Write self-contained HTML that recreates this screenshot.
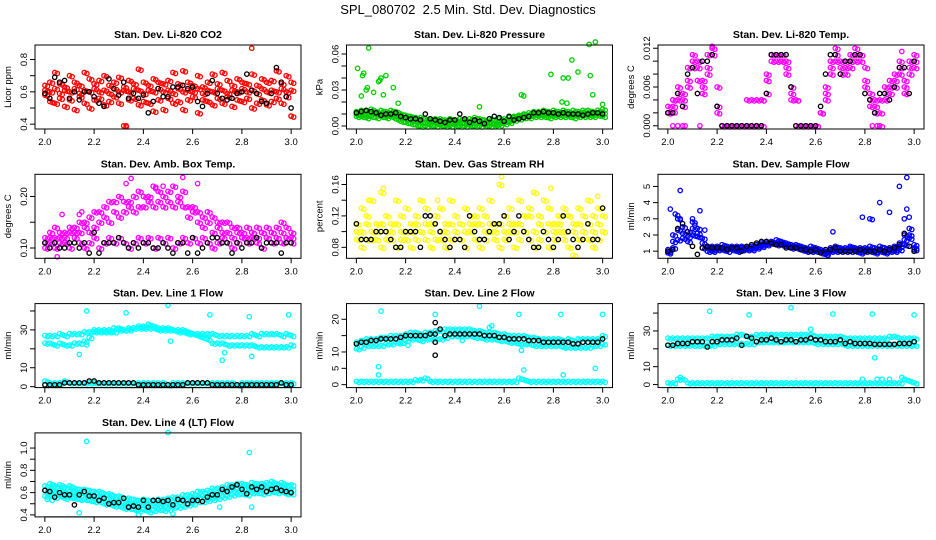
<!DOCTYPE html>
<html><head><meta charset="utf-8"><style>
html,body{margin:0;padding:0;background:#fff}
svg{display:block;font-family:"Liberation Sans",Arial,sans-serif}
</style></head><body>
<svg id="chart" width="936" height="540" viewBox="0 0 936 540" xmlns="http://www.w3.org/2000/svg">
<rect width="936" height="540" fill="#fff"/>
<text x="468" y="14" text-anchor="middle" font-size="13">SPL_080702 &#160;2.5 Min. Std. Dev. Diagnostics</text>
</svg>
<script>
const times=[2.00,2.02,2.04,2.06,2.08,2.10,2.12,2.14,2.16,2.18,2.20,2.22,2.24,2.26,2.28,2.30,2.32,2.34,2.36,2.38,2.40,2.42,2.44,2.46,2.48,2.50,2.52,2.54,2.56,2.58,2.60,2.62,2.64,2.66,2.68,2.70,2.72,2.74,2.76,2.78,2.80,2.82,2.84,2.86,2.88,2.90,2.92,2.94,2.96,2.98,3.00];
const xTicks=[2.0,2.2,2.4,2.6,2.8,3.0];
const xTickLabels=["2.0","2.2","2.4","2.6","2.8","3.0"];

const co2A=[0.64,0.66,0.72,0.65,0.63,0.70,0.66,0.64,0.72,0.68,0.65,0.67,0.70,0.64,0.66,0.69,0.63,0.67,0.65,0.74,0.66,0.64,0.68,0.66,0.65,0.67,0.72,0.65,0.73,0.66,0.64,0.70,0.63,0.66,0.71,0.65,0.72,0.67,0.64,0.68,0.66,0.65,0.71,0.64,0.68,0.66,0.67,0.73,0.65,0.70,0.66];
const co2B=[0.58,0.54,0.53,0.56,0.51,0.55,0.49,0.57,0.53,0.50,0.55,0.56,0.52,0.54,0.57,0.53,0.39,0.55,0.56,0.52,0.54,0.53,0.48,0.55,0.49,0.56,0.53,0.54,0.49,0.55,0.57,0.47,0.55,0.54,0.52,0.56,0.53,0.57,0.51,0.55,0.54,0.56,0.50,0.53,0.55,0.52,0.54,0.56,0.53,0.57,0.45];
const co2C=[0.61,0.60,0.62,0.59,0.61,0.60,0.62,0.59,0.61,0.60,0.62,0.60,0.61,0.59,0.62,0.60,0.61,0.60,0.62,0.61,0.59,0.61,0.60,0.62,0.60,0.61,0.59,0.62,0.60,0.61,0.60,0.62,0.59,0.61,0.60,0.62,0.61,0.59,0.61,0.60,0.62,0.60,0.61,0.59,0.62,0.60,0.61,0.60,0.62,0.60,0.61];
const co2K=[0.59,0.56,0.69,0.66,0.67,0.56,0.60,0.55,0.60,0.60,0.57,0.53,0.51,0.68,0.62,0.58,0.66,0.56,0.59,0.56,0.58,0.47,0.54,0.62,0.57,0.57,0.63,0.63,0.64,0.62,0.63,0.54,0.51,0.59,0.67,0.59,0.56,0.55,0.56,0.59,0.60,0.71,0.61,0.59,0.54,0.53,0.59,0.75,0.66,0.57,0.50];
const co2OutX=[2.84,2.33,3.00];
const co2OutY=[0.87,0.39,0.45];

const presA=[0.012,0.013,0.012,0.014,0.012,0.013,0.012,0.013,0.012,0.010,0.009,0.008,0.007,0.007,0.006,0.006,0.006,0.006,0.005,0.006,0.005,0.006,0.005,0.006,0.007,0.006,0.005,0.006,0.005,0.006,0.006,0.007,0.008,0.009,0.010,0.011,0.012,0.012,0.013,0.012,0.013,0.012,0.013,0.012,0.013,0.012,0.013,0.013,0.012,0.013,0.014];
const presB=[0.008,0.008,0.007,0.008,0.007,0.008,0.007,0.008,0.006,0.004,0.003,0.002,0.001,0.000,0.000,0.001,0.000,0.001,0.000,0.000,0.001,0.000,0.000,0.001,0.000,0.000,0.001,0.000,0.001,0.001,0.002,0.003,0.005,0.006,0.007,0.007,0.008,0.008,0.008,0.007,0.008,0.008,0.008,0.008,0.007,0.008,0.008,0.008,0.008,0.009,0.008];
const presC=[0.010,0.010,0.009,0.011,0.010,0.010,0.009,0.010,0.009,0.007,0.006,0.005,0.004,0.003,0.003,0.004,0.003,0.003,0.002,0.003,0.003,0.003,0.002,0.003,0.004,0.003,0.003,0.003,0.002,0.003,0.004,0.005,0.007,0.008,0.009,0.009,0.010,0.010,0.010,0.010,0.010,0.010,0.011,0.010,0.010,0.010,0.011,0.010,0.010,0.011,0.011];
const presK=[0.011,0.012,0.013,0.012,0.011,0.009,0.010,0.010,0.011,0.008,0.007,0.006,0.006,0.005,0.010,0.006,0.005,0.004,0.003,0.005,0.005,0.010,0.006,0.003,0.005,0.004,0.002,0.006,0.008,0.007,0.004,0.008,0.005,0.006,0.007,0.008,0.011,0.011,0.012,0.011,0.011,0.010,0.011,0.010,0.010,0.010,0.009,0.010,0.011,0.011,0.010];
const presOutX=[2.005,2.02,2.025,2.03,2.04,2.045,2.05,2.07,2.09,2.095,2.10,2.11,2.12,2.15,2.17,2.50,2.67,2.68,2.79,2.84,2.86,2.875,2.90,2.945,2.95,2.96,2.97,2.835,2.855,3.00];
const presOutY=[0.048,0.025,0.042,0.044,0.030,0.032,0.065,0.028,0.037,0.038,0.040,0.026,0.042,0.032,0.019,0.016,0.026,0.025,0.043,0.040,0.040,0.055,0.045,0.068,0.042,0.026,0.070,0.020,0.019,0.018];

const tempA=[0.003,0.004,0.006,0.005,0.009,0.011,0.010,0.007,0.011,0.012,0.006,0.000,0.000,0.000,0.000,0.000,0.004,0.004,0.004,0.004,0.008,0.011,0.011,0.011,0.010,0.006,0.004,0.000,0.000,0.000,0.000,0.002,0.006,0.010,0.012,0.010,0.010,0.011,0.012,0.011,0.009,0.005,0.004,0.004,0.006,0.007,0.008,0.010,0.007,0.010,0.011];
const tempB=[0.002,0.003,0.004,0.003,0.006,0.009,0.007,0.005,0.008,0.011,0.003,0.000,0.000,0.000,0.000,0.000,0.000,0.000,0.000,0.000,0.005,0.010,0.010,0.010,0.008,0.004,0.000,0.000,0.000,0.000,0.000,0.002,0.004,0.008,0.010,0.008,0.008,0.009,0.010,0.010,0.006,0.003,0.002,0.000,0.004,0.005,0.006,0.008,0.005,0.008,0.009];
const tempC=[0.002,0.004,0.005,0.004,0.007,0.010,0.009,0.006,0.009,0.012,0.002,0.000,0.000,0.000,0.000,0.000,0.000,0.000,0.000,0.004,0.007,0.011,0.011,0.010,0.009,0.005,0.004,0.000,0.000,0.000,0.000,0.002,0.005,0.009,0.011,0.009,0.009,0.010,0.011,0.011,0.007,0.004,0.003,0.002,0.005,0.006,0.007,0.009,0.006,0.009,0.010];
const tempK=[0.002,0.002,0.005,0.003,0.008,0.009,0.005,0.010,0.010,0.011,0.003,0.000,0.000,0.000,0.000,0.000,0.000,0.000,0.000,0.000,0.005,0.011,0.011,0.011,0.011,0.006,0.000,0.000,0.000,0.000,0.000,0.003,0.008,0.011,0.011,0.008,0.010,0.010,0.011,0.011,0.005,0.004,0.002,0.005,0.005,0.004,0.006,0.009,0.009,0.005,0.010];
const tempOutX=[2.02,2.04,2.06,2.07,2.13,2.83,2.85,2.86,2.18,2.95,2.01,2.03];
const tempOutY=[0,0,0,0,0,0,0,0,0.0123,0.0115,0.002,0.002];

const boxA=[0.12,0.13,0.14,0.13,0.13,0.14,0.14,0.15,0.15,0.16,0.17,0.17,0.18,0.19,0.19,0.20,0.19,0.19,0.20,0.21,0.20,0.20,0.22,0.21,0.20,0.21,0.22,0.20,0.21,0.18,0.18,0.17,0.16,0.17,0.16,0.15,0.15,0.15,0.14,0.14,0.13,0.14,0.13,0.14,0.13,0.14,0.13,0.14,0.15,0.14,0.13];
const boxB=[0.10,0.11,0.10,0.12,0.11,0.10,0.12,0.11,0.10,0.11,0.12,0.10,0.11,0.12,0.11,0.12,0.11,0.10,0.11,0.12,0.11,0.12,0.10,0.12,0.11,0.12,0.10,0.11,0.12,0.11,0.12,0.11,0.12,0.11,0.10,0.11,0.12,0.11,0.10,0.11,0.12,0.11,0.12,0.11,0.10,0.12,0.11,0.12,0.11,0.12,0.11];
const boxC=[0.11,0.12,0.12,0.11,0.12,0.13,0.13,0.13,0.14,0.13,0.14,0.15,0.16,0.15,0.17,0.16,0.17,0.18,0.17,0.18,0.18,0.19,0.18,0.19,0.18,0.19,0.18,0.19,0.18,0.16,0.17,0.15,0.14,0.15,0.13,0.14,0.13,0.13,0.12,0.13,0.12,0.12,0.13,0.12,0.13,0.12,0.13,0.12,0.13,0.12,0.12];
const boxK=[0.11,0.10,0.11,0.10,0.10,0.11,0.11,0.10,0.11,0.09,0.13,0.09,0.11,0.11,0.11,0.12,0.11,0.10,0.11,0.10,0.11,0.11,0.10,0.10,0.11,0.10,0.09,0.11,0.11,0.09,0.12,0.09,0.10,0.11,0.12,0.12,0.11,0.11,0.09,0.11,0.10,0.11,0.11,0.12,0.10,0.11,0.11,0.11,0.09,0.11,0.11];
const boxOutX=[2.35,2.33,2.62,2.56,2.07,2.05,2.14,2.15,2.45,2.48];
const boxOutY=[0.235,0.225,0.225,0.237,0.165,0.083,0.165,0.17,0.215,0.22];

const rhA=[0.11,0.13,0.12,0.14,0.11,0.15,0.12,0.11,0.14,0.12,0.13,0.11,0.12,0.14,0.13,0.11,0.12,0.13,0.11,0.14,0.12,0.11,0.13,0.12,0.11,0.13,0.12,0.14,0.11,0.16,0.12,0.13,0.11,0.14,0.12,0.13,0.15,0.12,0.14,0.13,0.11,0.12,0.13,0.12,0.11,0.13,0.12,0.14,0.12,0.13,0.12];
const rhB=[0.09,0.08,0.09,0.10,0.09,0.08,0.10,0.09,0.08,0.09,0.10,0.08,0.09,0.10,0.09,0.08,0.09,0.10,0.08,0.09,0.10,0.09,0.08,0.10,0.09,0.08,0.09,0.10,0.09,0.08,0.09,0.10,0.08,0.09,0.10,0.09,0.08,0.09,0.10,0.08,0.09,0.10,0.09,0.08,0.07,0.09,0.10,0.09,0.08,0.09,0.10];
const rhC=[0.10,0.10,0.11,0.09,0.10,0.11,0.09,0.10,0.11,0.10,0.09,0.10,0.11,0.10,0.11,0.10,0.12,0.09,0.10,0.11,0.10,0.11,0.10,0.11,0.12,0.11,0.10,0.11,0.10,0.11,0.10,0.11,0.10,0.11,0.10,0.12,0.10,0.11,0.10,0.11,0.10,0.11,0.10,0.12,0.10,0.11,0.10,0.11,0.10,0.11,0.10];
const rhK=[0.11,0.09,0.09,0.09,0.10,0.10,0.10,0.09,0.08,0.08,0.10,0.10,0.10,0.08,0.12,0.12,0.11,0.10,0.09,0.08,0.09,0.09,0.08,0.12,0.10,0.09,0.09,0.10,0.11,0.11,0.12,0.09,0.10,0.12,0.10,0.09,0.08,0.08,0.10,0.09,0.08,0.09,0.12,0.10,0.09,0.08,0.09,0.11,0.09,0.09,0.13];
const rhOutX=[2.59,2.79,2.11,2.05,2.33,2.98];
const rhOutY=[0.17,0.155,0.155,0.14,0.14,0.145];

const sfA=[1.1,2.0,3.0,2.5,2.2,2.8,2.4,1.8,1.3,1.3,1.3,1.4,1.3,1.3,1.3,1.3,1.2,1.3,1.4,1.5,1.6,1.6,1.7,1.6,1.5,1.4,1.4,1.3,1.2,1.3,1.2,1.1,1.0,1.2,1.3,1.2,1.2,1.3,1.2,1.2,1.2,1.3,1.2,1.3,1.2,1.2,1.3,1.5,2.0,2.4,1.4];
const sfB=[0.9,1.2,1.7,1.8,1.6,2.0,1.9,1.2,1.0,1.0,1.1,1.1,1.0,1.1,1.0,1.1,1.1,1.1,1.2,1.3,1.4,1.5,1.4,1.4,1.3,1.2,1.2,1.1,1.0,1.0,1.0,0.9,0.8,1.0,1.0,1.0,1.0,1.0,1.0,0.9,1.0,1.0,0.9,1.0,0.9,1.0,1.0,1.1,1.4,1.8,1.1];
const sfC=[1.0,1.6,2.3,2.1,1.9,2.4,2.1,1.5,1.2,1.1,1.2,1.2,1.2,1.2,1.1,1.2,1.2,1.2,1.3,1.4,1.5,1.5,1.5,1.5,1.4,1.3,1.3,1.2,1.1,1.1,1.1,1.0,0.9,1.1,1.1,1.1,1.1,1.2,1.1,1.0,1.1,1.1,1.0,1.1,1.0,1.1,1.1,1.3,1.7,2.0,1.2];
const sfK=[1.0,1.1,2.4,2.7,2.2,1.3,0.8,1.2,1.3,1.2,1.2,1.2,1.1,1.2,1.2,1.0,1.3,1.4,1.5,1.6,1.6,1.5,1.4,1.4,1.2,1.2,1.2,1.1,1.1,1.0,1.1,0.9,1.1,1.1,1.2,1.0,1.0,1.0,1.0,1.1,1.0,1.0,1.0,1.1,1.0,1.1,1.2,1.4,2.1,1.3,1.0];
const sfOutX=[2.01,2.03,2.04,2.05,2.05,2.10,2.11,2.13,2.15,2.67,2.79,2.82,2.83,2.86,2.90,2.94,2.97,2.96,2.97,2.98];
const sfOutY=[3.6,3.3,3.2,4.75,3.0,3.0,2.6,3.5,2.3,2.2,3.1,3.0,2.95,4.0,3.4,5.0,5.55,3.0,3.6,3.1];

const l1A=[27,27,27,28,27,28,28,28,29,29,30,30,30,30,31,31,30,31,31,32,32,33,32,31,31,31,30,30,30,29,28,28,28,28,28,27,27,27,27,27,27,27,28,27,28,28,28,28,27,28,27];
const l1B=[23,23,22,23,22,22,23,23,24,26,29,29,29,29,29,30,30,30,31,31,31,31,31,30,30,30,30,29,29,28,28,27,26,25,23,23,23,22,22,22,22,22,22,21,21,21,21,21,21,21,22];
const l1C=[3,2,2,2,3,2,2,2,2,2,2,2,2,2,2,2,2,2,2,2,2,2,2,2,2,1,2,2,2,2,2,2,2,2,2,2,2,2,2,1,2,2,2,2,2,2,2,2,2,2,2];
const l1K=[1,1,1,1,2,2,2,2,2,3,3,2,2,2,2,2,2,2,2,1,1,1,1,1,1,1,1,1,1,2,2,2,2,2,1,1,1,1,1,1,1,1,1,1,1,1,1,1,2,1,1];
const l1OutX=[2.17,2.33,2.50,2.67,2.83,2.99,2.14,2.17,2.51,2.72,2.73,2.84];
const l1OutY=[40,39,43,38,37,38,17,22,24,14,18,16];

const l2A=[13,13.5,14,14,14,14.5,14.5,15,15,15,15.5,16,16,15.5,16,16,16.5,16.5,17,17,17,17,17,17,16.5,16.5,16,16,16,15.5,15.5,15,15,15,15,14.5,14.5,14,14,14,14,14,13.5,14,13.5,14,14,14,14,14,15];
const l2B=[11,11.5,12,12,12,12,12.5,12.5,13,13,13.5,14,14,13.5,14,14,14,14,14.5,15,15,15,15,15,14.5,14.5,14,14,14,13.5,13.5,13,13,12.5,12.5,12.5,12,12,12,12,12,12,11.5,11.5,11.5,11.5,11.5,11.5,12,12,12.5];
const l2C=[1,1,1,1,1,1,1,1,1,1,1,1,1.5,1.5,2,1,1,1,1,1,1,1,1,1,1,1,1,1,1,1,1,1,1,2,1.5,1,1,1,1,1,1,1,1,1,1,1,1,1,1,1,1];
const l2K=[12.5,13,13,13.5,13.5,14,14,14,14,14.5,15,15,15,15,15,15.5,15.5,17,15,15.5,15.5,15.5,15.5,15.5,15.5,15.5,15,15,15,14.5,14.5,14,14,14,14,13.5,13.5,13.5,13,13,13,13,13,13,12.5,12.5,13,13,13,13,14];
const l2OutX=[2.10,2.32,2.50,2.66,2.83,3.00,2.09,2.09,2.68,2.84,2.97,2.55,2.54,2.21,2.18,2.43,2.67];
const l2OutY=[22.5,21.5,24,21.5,21.5,21.5,5.5,3,4.5,3,5,18,17.5,12,12.5,13.5,10.5];
const l2KOutX=[2.32,2.32,2.32];
const l2KOutY=[19,13,9];

const l3A=[26,26,26,26,26,26,26,26,26,27,27,27,27,27,28,28,27,27,28,28,28,28,28,28,28,28,28,28,28,28,27,27,27,27,27,27,26,26,26,26,26,26,26,26,26,27,27,26,26,26,26];
const l3B=[22,22,22,22,22,22,22,22,22,22,23,23,23,23,23,23,23,23,24,24,24,24,24,24,24,24,24,24,24,24,23,23,23,23,23,23,22,22,22,22,22,22,22,22,22,22,22,22,22,22,22];
const l3C=[1,1,3,3,1,1,1,1,1,1,1,1,1,1,1,1,1,1,1,1,1,1,1,1,1,1,1,1,1,1,1,1,1,1,1,1,1,1,1,1,1,1,1,1,1,1,1,1,3,2,1];
const l3K=[22,22,23,23,23,24,24,24,21,24,24,25,25,25,26,22,27,26,24,25,25,26,25,24,25,25,24,25,25,26,25,25,24,24,24,25,23,24,23,23,23,23,22.5,22.5,22.5,22.5,22.5,23,23,23,24];
const l3OutX=[2.17,2.33,2.50,2.67,2.83,3.00,2.84,2.58,2.79,2.85,2.87,2.90,2.95,2.05];
const l3OutY=[41,39,43,39.5,39.5,39,15,31,3,3,3,3,4,4];

const l4A=[0.66,0.68,0.66,0.67,0.65,0.66,0.64,0.63,0.63,0.62,0.61,0.61,0.59,0.59,0.57,0.57,0.55,0.55,0.54,0.53,0.54,0.53,0.52,0.54,0.54,0.55,0.56,0.56,0.58,0.58,0.59,0.61,0.61,0.62,0.64,0.64,0.65,0.67,0.67,0.68,0.68,0.67,0.69,0.68,0.68,0.69,0.70,0.68,0.69,0.67,0.67];
const l4B=[0.57,0.58,0.56,0.57,0.55,0.56,0.55,0.54,0.54,0.53,0.52,0.52,0.50,0.50,0.48,0.48,0.46,0.46,0.45,0.44,0.45,0.43,0.44,0.45,0.44,0.45,0.47,0.47,0.48,0.49,0.50,0.52,0.52,0.53,0.54,0.55,0.56,0.57,0.58,0.59,0.59,0.58,0.60,0.60,0.59,0.60,0.61,0.60,0.61,0.59,0.59];
const l4C=[0.62,0.63,0.61,0.62,0.60,0.61,0.60,0.58,0.59,0.58,0.57,0.56,0.55,0.54,0.53,0.52,0.51,0.50,0.49,0.49,0.49,0.48,0.48,0.49,0.49,0.50,0.51,0.52,0.53,0.53,0.55,0.56,0.57,0.57,0.59,0.60,0.61,0.62,0.62,0.63,0.64,0.63,0.64,0.64,0.64,0.65,0.65,0.64,0.65,0.63,0.63];
const l4K=[0.62,0.61,0.56,0.60,0.58,0.58,0.49,0.58,0.61,0.57,0.57,0.53,0.55,0.50,0.51,0.51,0.55,0.47,0.48,0.47,0.53,0.47,0.53,0.53,0.52,0.53,0.49,0.54,0.53,0.50,0.53,0.53,0.52,0.56,0.58,0.58,0.63,0.61,0.65,0.67,0.63,0.59,0.65,0.63,0.65,0.61,0.63,0.64,0.62,0.61,0.60];
const l4OutX=[2.17,2.50,2.83,2.14,2.38,2.52,2.84,2.71,2.01,2.03];
const l4OutY=[1.06,1.14,0.96,0.42,0.40,0.41,0.47,0.47,0.54,0.53];

const panels=[
 {name:"co2",title:"Stan. Dev. Li-820 CO2",ylab:"Licor ppm",col:0,row:0,dom:[0.37,0.89],ticks:[0.4,0.5,0.6,0.7,0.8],labels:["0.4","","0.6","","0.8"],color:"#ff0000",series:[co2A,co2B,co2C],ox:co2OutX,oy:co2OutY,k:co2K},
 {name:"pressure",title:"Stan. Dev. Li-820 Pressure",ylab:"kPa",col:1,row:0,dom:[-0.0025,0.0675],ticks:[0,0.01,0.02,0.03,0.04,0.05,0.06],labels:["0.00","","","0.03","","","0.06"],color:"#00cd00",series:[presA,presB,presC],ox:presOutX,oy:presOutY,k:presK},
 {name:"temp",title:"Stan. Dev. Li-820 Temp.",ylab:"degrees C",col:2,row:0,dom:[-0.0005,0.0125],ticks:[0,0.002,0.004,0.006,0.008,0.010,0.012],labels:["0.000","","","0.006","","","0.012"],color:"#ff00ff",series:[tempA,tempB,tempC],ox:tempOutX,oy:tempOutY,k:tempK},
 {name:"amb-box",title:"Stan. Dev. Amb. Box Temp.",ylab:"degrees C",col:0,row:1,dom:[0.080,0.243],ticks:[0.10,0.15,0.20],labels:["0.10","","0.20"],color:"#ff00ff",series:[boxA,boxB,boxC],ox:boxOutX,oy:boxOutY,k:boxK},
 {name:"rh",title:"Stan. Dev. Gas Stream RH",ylab:"percent",col:1,row:1,dom:[0.066,0.173],ticks:[0.08,0.10,0.12,0.14,0.16],labels:["0.08","","0.12","","0.16"],color:"#ffff00",series:[rhA,rhB,rhC],ox:rhOutX,oy:rhOutY,k:rhK},
 {name:"sample-flow",title:"Stan. Dev. Sample Flow",ylab:"ml/min",col:2,row:1,dom:[0.56,5.75],ticks:[1,2,3,4,5],labels:["1","2","3","4","5"],color:"#0000ff",series:[sfA,sfB,sfC],ox:sfOutX,oy:sfOutY,k:sfK},
 {name:"line1",title:"Stan. Dev. Line 1 Flow",ylab:"ml/min",col:0,row:2,dom:[-0.5,43.9],ticks:[0,10,20,30,40],labels:["0","10","","30",""],color:"#00ffff",series:[l1A,l1B,l1C],ox:l1OutX,oy:l1OutY,k:l1K},
 {name:"line2",title:"Stan. Dev. Line 2 Flow",ylab:"ml/min",col:1,row:2,dom:[-0.9,24.8],ticks:[0,5,10,15,20],labels:["0","5","10","","20"],color:"#00ffff",series:[l2A,l2B,l2C],ox:l2OutX,oy:l2OutY,k:l2K,kox:l2KOutX,koy:l2KOutY},
 {name:"line3",title:"Stan. Dev. Line 3 Flow",ylab:"ml/min",col:2,row:2,dom:[-1.7,45.3],ticks:[0,10,20,30,40],labels:["0","10","","30",""],color:"#00ffff",series:[l3A,l3B,l3C],ox:l3OutX,oy:l3OutY,k:l3K},
 {name:"line4",title:"Stan. Dev. Line 4 (LT) Flow",ylab:"ml/min",col:0,row:3,dom:[0.382,1.136],ticks:[0.4,0.5,0.6,0.7,0.8,0.9,1.0],labels:["0.4","","0.6","","0.8","","1.0"],color:"#00ffff",series:[l4A,l4B,l4C],ox:l4OutX,oy:l4OutY,k:l4K}
];

const NS="http://www.w3.org/2000/svg";
const svg=document.getElementById('chart');
function mk(tag,attrs,parent){const e=document.createElementNS(NS,tag);for(const k in attrs)e.setAttribute(k,attrs[k]);(parent||svg).appendChild(e);return e;}
const R=2.2;

panels.forEach(p=>{
  const L=35+311.5*p.col, T=45+129.3*p.row, W=266, H=84;
  const xs=v=>L+(v-1.96)/(1.08)*W;
  const ys=v=>T+H-(v-p.dom[0])/(p.dom[1]-p.dom[0])*H;
  const g=mk('g',{});
  
  
  const t=mk('text',{x:L+W/2,y:T-7,'text-anchor':'middle','font-size':'10.5','font-weight':'bold'},g);
  t.textContent=p.title;
  
  
  const yl=mk('text',{transform:`translate(${L-24},${T+H/2}) rotate(-90)`,'text-anchor':'middle','font-size':'9.5'},g);
  yl.textContent=p.ylab;
  
  
  const pts=mk('g',{fill:'none',stroke:p.color,'stroke-width':'1.3'},g);
  
  
  p.series.forEach(s=>{s.forEach((v,i)=>{
    const c=mk('circle',{cx:xs(times[i]).toFixed(1),cy:ys(v).toFixed(1),r:R},pts);
    
    
    const c2=mk('circle',{cx:(xs(times[i])+2.6).toFixed(1),cy:(ys(v)+1).toFixed(1),r:R},pts);
    
    
  });});
  p.ox.forEach((x,i)=>{
    const c=mk('circle',{cx:xs(x).toFixed(1),cy:ys(p.oy[i]).toFixed(1),r:R},pts);
    
    
  });
  const kg=mk('g',{fill:'none',stroke:'#000','stroke-width':'1.3'},g);
  
  
  p.k.forEach((v,i)=>{
    const c=mk('circle',{cx:xs(times[i]).toFixed(1),cy:ys(v).toFixed(1),r:R},kg);
    
    
  });
  if(p.kox)p.kox.forEach((x,i)=>{
    const c=mk('circle',{cx:xs(x).toFixed(1),cy:ys(p.koy[i]).toFixed(1),r:R},kg);
    
    
  });
  const fr=mk('rect',{x:L,y:T,width:W,height:H,fill:'none',stroke:'#000','stroke-width':'1'},g);
  
  
  const xa=mk('g',{},g);
  
  
  mk('line',{x1:xs(xTicks[0]),x2:xs(xTicks[xTicks.length-1]),y1:T+H,y2:T+H,stroke:'#000'},xa);
  xTicks.forEach((v,i)=>{
    mk('line',{x1:xs(v),x2:xs(v),y1:T+H,y2:T+H+5,stroke:'#000'},xa);
    const tl=mk('text',{x:xs(v),y:T+H+16,'text-anchor':'middle','font-size':'9.5'},xa);
    tl.textContent=xTickLabels[i];
    
    
  });
  const ya=mk('g',{},g);
  
  
  mk('line',{x1:L,x2:L,y1:ys(p.ticks[0]),y2:ys(p.ticks[p.ticks.length-1]),stroke:'#000'},ya);
  p.ticks.forEach((v,i)=>{
    mk('line',{x1:L-5,x2:L,y1:ys(v),y2:ys(v),stroke:'#000'},ya);
    if(p.labels[i]){
      const tl=mk('text',{transform:`translate(${L-8},${ys(v)}) rotate(-90)`,'text-anchor':'middle','font-size':'9.5'},ya);
      tl.textContent=p.labels[i];
      
      
    }
  });
});
</script>
</body></html>
